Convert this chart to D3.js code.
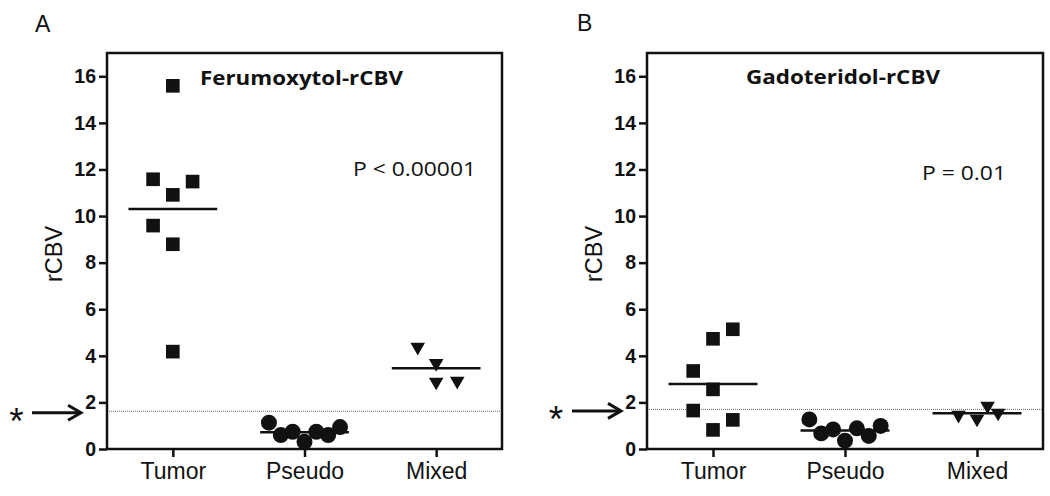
<!DOCTYPE html>
<html>
<head>
<meta charset="utf-8">
<script src="https://cdn.jsdelivr.net/npm/d3@7"></script>
<style>
  html, body { margin: 0; padding: 0; background: #fff; }
  svg { display: block; }
</style>
</head>
<body>
<svg id="chart" width="1050" height="496"></svg>
<script>
// ---------------- data ----------------
const categories = ["Tumor", "Pseudo", "Mixed"];
const yTicks = [0, 2, 4, 6, 8, 10, 12, 14, 16];
const yMax = 17;

// Panel A: Ferumoxytol-rCBV
const ferTumor  = [15.59, 11.58, 11.48, 10.91, 9.59, 8.79, 4.18];
const ferPseudo = [1.13, 0.60, 0.74, 0.31, 0.74, 0.60, 0.94];
const ferMixed  = [4.38, 3.68, 2.88, 2.92];
// horizontal spread of each point, in category-step units
const ferTumorJitter  = [0, -0.15, 0.15, 0, -0.15, 0, 0];
const ferPseudoJitter = [-0.27, -0.18, -0.09, 0, 0.09, 0.18, 0.27];
const ferMixedJitter  = [-0.14, 0, 0, 0.16];
const ferThreshold = 1.62;
const ferTitle = "Ferumoxytol-rCBV";
const ferP = "P < 0.00001";

// Panel B: Gadoteridol-rCBV
const gadTumor  = [5.14, 4.73, 3.35, 2.56, 1.65, 1.25, 0.82];
const gadPseudo = [1.27, 0.67, 0.84, 0.36, 0.89, 0.56, 0.99];
const gadMixed  = [1.46, 1.29, 1.85, 1.55];
const gadTumorJitter  = [0.15, 0, -0.15, 0, -0.15, 0.15, 0];
const gadPseudoJitter = [-0.27, -0.18, -0.09, 0, 0.09, 0.18, 0.27];
const gadMixedJitter  = [-0.14, 0, 0.08, 0.16];
const gadThreshold = 1.70;
const gadTitle = "Gadoteridol-rCBV";
const gadP = "P = 0.01";

const yLabel = "rCBV";

// ---------------- layout ----------------
const svg = d3.select("#chart");
const FONT = "'Liberation Sans', Arial, sans-serif";
const TFONT = "'Open Sans', 'Liberation Sans', sans-serif";

const panels = [
  {
    letter: "A", letterX: 35, letterY: 32,
    left: 107, right: 502, top: 53, bottom: 449,
    groups: [ferTumor, ferPseudo, ferMixed],
    jitters: [ferTumorJitter, ferPseudoJitter, ferMixedJitter],
    threshold: ferThreshold,
    title: ferTitle, titleX: 200, titleY: 85, titleW: 203,
    p: ferP, pX: 353, pY: 176, pW: 123,
    yLabX: 62, yLabY: 254,
    starX: 16.5, arrowX0: 32, arrowX1: 81
  },
  {
    letter: "B", letterX: 577, letterY: 31,
    left: 647, right: 1043, top: 53, bottom: 449,
    groups: [gadTumor, gadPseudo, gadMixed],
    jitters: [gadTumorJitter, gadPseudoJitter, gadMixedJitter],
    threshold: gadThreshold,
    title: gadTitle, titleX: 746, titleY: 84, titleW: 194,
    p: gadP, pX: 922, pY: 180, pW: 84,
    yLabX: 602, yLabY: 254,
    starX: 556, arrowX0: 572, arrowX1: 621
  }
];

const symbols = [
  d3.symbol().type(d3.symbolSquare).size(186),
  d3.symbol().type(d3.symbolCircle).size(200),
  d3.symbol().type(d3.symbolTriangle).size(92)
];
const symbolRotate = [0, 0, 180];

panels.forEach(P => {
  const g = svg.append("g");
  const x = d3.scalePoint().domain(categories).range([P.left, P.right]).padding(0.5);
  const y = d3.scaleLinear().domain([0, yMax]).range([P.bottom, P.top]);
  const step = x.step();

  // panel letter
  g.append("text").attr("x", P.letterX).attr("y", P.letterY)
    .attr("font-family", FONT).attr("font-size", 23).attr("fill", "#111")
    .text(P.letter);

  // threshold dotted line
  g.append("line")
    .attr("x1", P.left).attr("x2", P.right)
    .attr("y1", y(P.threshold)).attr("y2", y(P.threshold))
    .attr("stroke", "#666").attr("stroke-width", 1).attr("stroke-dasharray", "1,1");

  // y axis
  const yAxis = g.append("g").attr("transform", `translate(${P.left},0)`)
    .call(d3.axisLeft(y).tickValues(yTicks).tickSize(8).tickPadding(3));
  yAxis.select(".domain").remove();
  yAxis.selectAll(".tick line").attr("stroke", "#111").attr("stroke-width", 2.5);
  yAxis.selectAll(".tick text").attr("font-family", FONT).attr("font-weight", "bold")
    .attr("font-size", 19.5).attr("fill", "#111");

  // x axis
  const xAxis = g.append("g").attr("transform", `translate(0,${P.bottom})`)
    .call(d3.axisBottom(x).tickSize(8).tickPadding(6));
  xAxis.select(".domain").remove();
  xAxis.selectAll(".tick line").attr("stroke", "#111").attr("stroke-width", 2.5);
  xAxis.selectAll(".tick text").attr("font-family", FONT)
    .attr("font-size", 23).attr("fill", "#111");

  // frame
  g.append("rect")
    .attr("x", P.left).attr("y", P.top)
    .attr("width", P.right - P.left).attr("height", P.bottom - P.top)
    .attr("fill", "none").attr("stroke", "#111").attr("stroke-width", 2.5);

  // y label
  g.append("text")
    .attr("transform", `translate(${P.yLabX},${P.yLabY}) rotate(-90)`)
    .attr("text-anchor", "middle")
    .attr("font-family", FONT).attr("font-size", 23.5).attr("fill", "#111")
    .text(yLabel);

  // title & p value
  g.append("text").attr("x", P.titleX).attr("y", P.titleY)
    .attr("font-family", TFONT).attr("font-weight", 700).attr("font-size", 19.5)
    .attr("textLength", P.titleW).attr("lengthAdjust", "spacingAndGlyphs")
    .attr("fill", "#111").text(P.title);
  g.append("text").attr("x", P.pX).attr("y", P.pY)
    .attr("font-family", TFONT).attr("font-size", 20)
    .attr("textLength", P.pW).attr("lengthAdjust", "spacingAndGlyphs")
    .attr("fill", "#111").text(P.p);

  // points and mean lines
  categories.forEach((cat, ci) => {
    const vals = P.groups[ci];
    const jit = P.jitters[ci];
    const pts = vals.map((v, i) => ({ v, j: jit[i] }));
    g.append("g").selectAll("path").data(pts).join("path")
      .attr("d", symbols[ci])
      .attr("transform", d => `translate(${x(cat) + d.j * step},${y(d.v)}) rotate(${symbolRotate[ci]})`)
      .attr("fill", "#111");
    const m = d3.mean(vals);
    g.append("line")
      .attr("x1", x(cat) - 0.337 * step).attr("x2", x(cat) + 0.337 * step)
      .attr("y1", y(m)).attr("y2", y(m))
      .attr("stroke", "#111").attr("stroke-width", 2.5);
  });

  // asterisk and arrow pointing to threshold
  const ay = y(P.threshold) + 1.5;
  g.append("text").attr("x", P.starX).attr("y", ay + 21)
    .attr("text-anchor", "middle")
    .attr("font-family", FONT).attr("font-size", 37).attr("fill", "#111")
    .text("*");
  g.append("line").attr("x1", P.arrowX0).attr("x2", P.arrowX1 - 2)
    .attr("y1", ay).attr("y2", ay)
    .attr("stroke", "#111").attr("stroke-width", 3);
  g.append("path")
    .attr("d", `M${P.arrowX1 - 13},${ay - 7.5} L${P.arrowX1},${ay} L${P.arrowX1 - 13},${ay + 7.5}`)
    .attr("fill", "none").attr("stroke", "#111").attr("stroke-width", 3)
    .attr("stroke-linejoin", "miter");
});
</script>
</body>
</html>
